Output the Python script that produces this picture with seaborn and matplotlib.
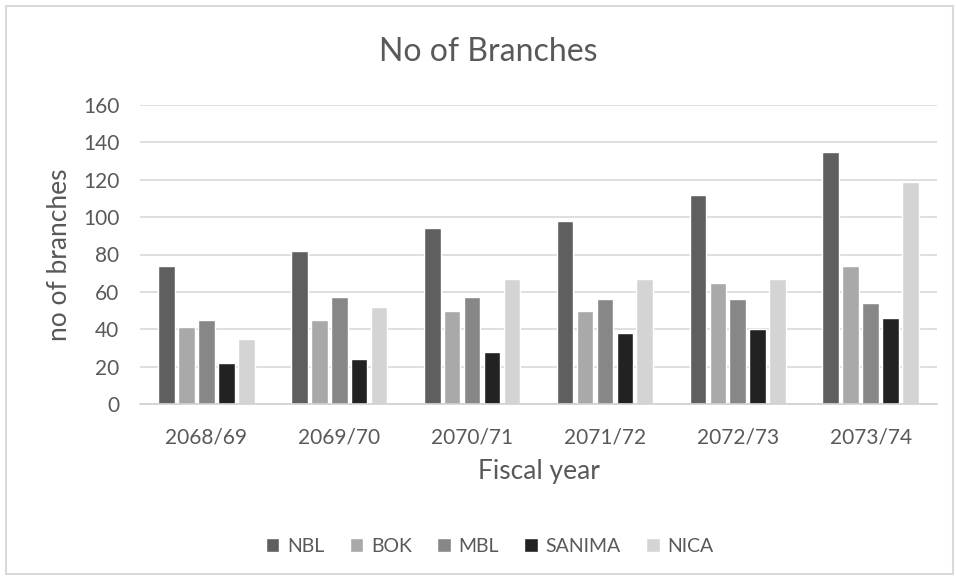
import matplotlib
matplotlib.use("Agg")
import matplotlib.pyplot as plt
import seaborn as sns
import pandas as pd
from matplotlib.patches import Rectangle

years = ["2068/69", "2069/70", "2070/71", "2071/72", "2072/73", "2073/74"]
banks = ["NBL", "BOK", "MBL", "SANIMA", "NICA"]
nbl = [74, 82, 94, 98, 112, 135]
bok = [41, 45, 50, 50, 65, 74]
mbl = [45, 57, 57, 56, 56, 54]
sanima = [22, 24, 28, 38, 40, 46]
nica = [35, 52, 67, 67, 67, 119]
colors = ["#5f5f5f", "#a9a9a9", "#878787", "#222222", "#d4d4d4"]

series = {"NBL": nbl, "BOK": bok, "MBL": mbl, "SANIMA": sanima, "NICA": nica}
rows = []
for b in banks:
    for y, v in zip(years, series[b]):
        rows.append({"year": y, "bank": b, "value": v})
df = pd.DataFrame(rows)

sns.set_theme(style="white")
plt.rcParams["font.family"] = ["Lato", "DejaVu Sans"]
txt = "#595959"

fig = plt.figure(figsize=(9.56, 5.8), dpi=100)
ax = fig.add_axes([140/956, 1-404/580, 797/956, 299/580])

sns.barplot(data=df, x="year", y="value", hue="bank", order=years, hue_order=banks,
            palette=colors, width=0.75, gap=0.17, saturation=1, ax=ax, legend=True)

ax.set_ylim(0, 160)
ax.set_yticks(range(0, 161, 20))
ax.yaxis.grid(True, color="#d9d9d9", linewidth=1.2)
ax.set_axisbelow(True)
for s in ["top", "right", "left"]:
    ax.spines[s].set_visible(False)
ax.spines["bottom"].set_color("#d0d0d0")
ax.spines["bottom"].set_linewidth(1.2)
ax.tick_params(axis="x", length=0, colors=txt, labelsize=15, pad=17)
ax.tick_params(axis="y", length=0, colors=txt, labelsize=15, pad=15)
ax.set_xlabel("Fiscal year", fontsize=19, color=txt, labelpad=8)
ax.set_ylabel("no of branches", fontsize=19, color=txt, labelpad=8)
fig.text(488/956, 1-52/580, "No of Branches", fontsize=23, color=txt,
         ha="center", va="center")

leg = ax.legend(loc="center", bbox_to_anchor=(0.439, -0.475), ncol=5, frameon=False,
                fontsize=14, handlelength=0.7, handleheight=0.7, columnspacing=1.3,
                handletextpad=0.4)
for t in leg.get_texts():
    t.set_color(txt)

fig.patches.append(Rectangle((6/956, 6/580), 947/956, 568/580, transform=fig.transFigure,
                             fill=False, edgecolor="#d9d9d9", linewidth=1.5))

fig.savefig("out.png", dpi=100)
